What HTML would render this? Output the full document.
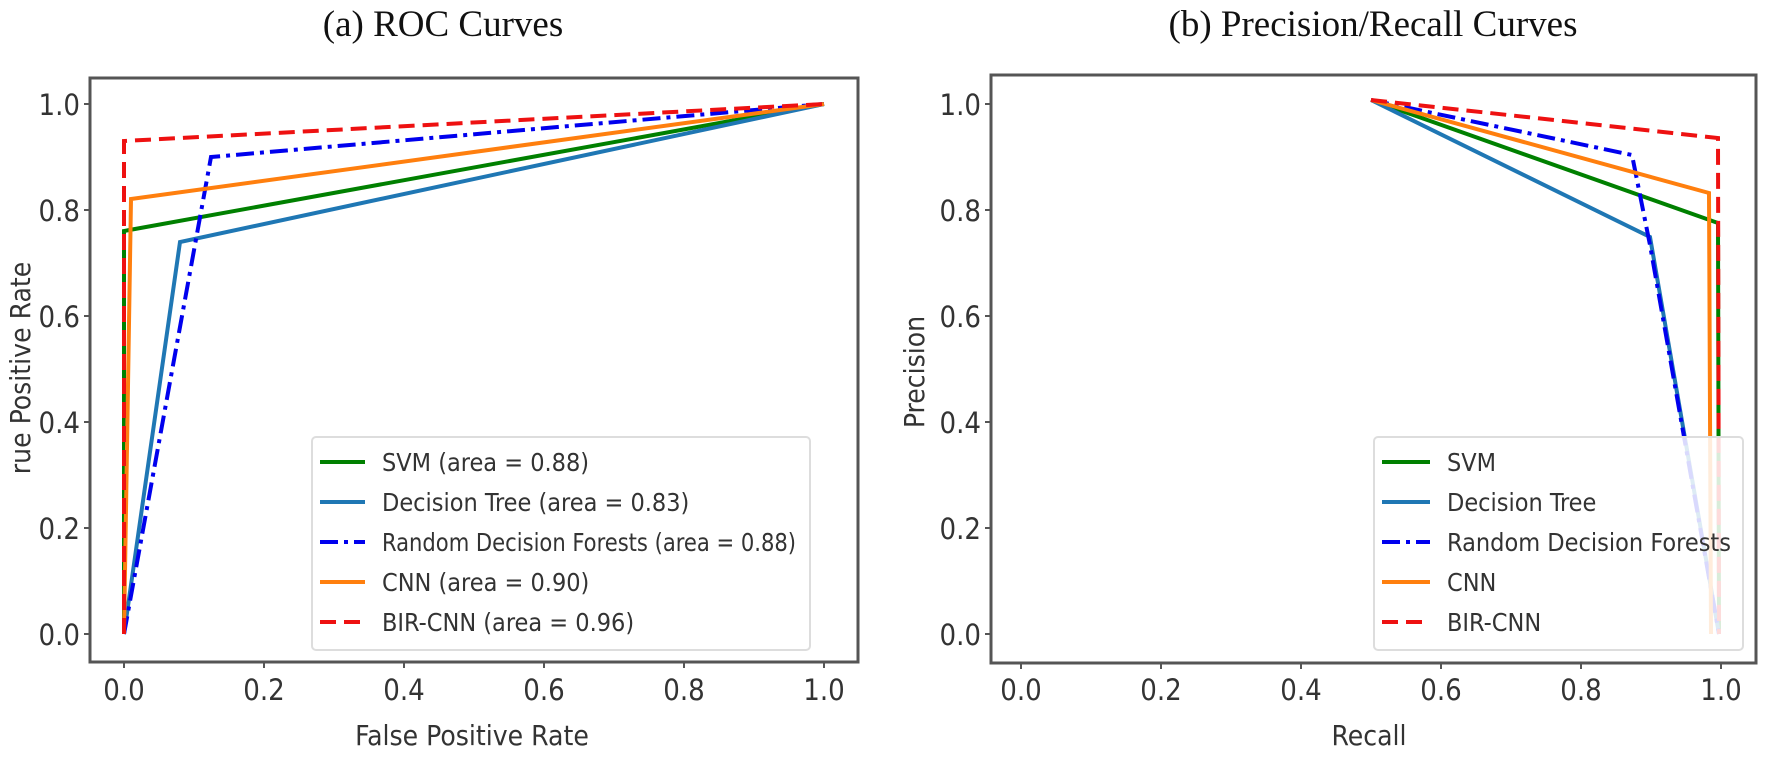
<!DOCTYPE html>
<html><head><style>
html,body{margin:0;padding:0;background:#fff;}
svg{display:block}
.t{font-family:"DejaVu Sans Condensed","DejaVu Sans","Liberation Sans",sans-serif;fill:#333;}
</style></head><body>
<svg width="1770" height="762" viewBox="0 0 1770 762" xmlns="http://www.w3.org/2000/svg">
<rect width="1770" height="762" fill="#fff"/>
<text x="443" y="36" text-anchor="middle" font-family="Liberation Serif,serif" font-size="37" fill="#111">(a) ROC Curves</text>
<text x="1373" y="36" text-anchor="middle" font-family="Liberation Serif,serif" font-size="37" fill="#111">(b) Precision/Recall Curves</text>

<!-- Left plot -->
<g stroke-width="4" fill="none" stroke-linejoin="miter">
<polyline points="124,634 124,231 824,104" stroke="#008000"/>
<polyline points="124,634 180,242 824,104" stroke="#1f77b4"/>
<polyline points="124,634 211,157 824,104" stroke="#0000ee" stroke-dasharray="18,6,4,6"/>
<polyline points="124,634 131,199 824,104" stroke="#ff7f0e"/>
<polyline points="124,634 124,141 824,104" stroke="#ee1111" stroke-dasharray="16,8"/>
</g>
<rect x="90" y="78" width="768" height="584" fill="none" stroke="#555" stroke-width="3"/>
<g class="t" font-size="29" text-anchor="end">
<text x="80" y="645">0.0</text><text x="80" y="539">0.2</text><text x="80" y="433">0.4</text>
<text x="80" y="327">0.6</text><text x="80" y="221">0.8</text><text x="80" y="115">1.0</text>
</g>
<g stroke="#555" stroke-width="2">
<line x1="84" y1="634" x2="90" y2="634"/><line x1="84" y1="528" x2="90" y2="528"/><line x1="84" y1="422" x2="90" y2="422"/>
<line x1="84" y1="316" x2="90" y2="316"/><line x1="84" y1="210" x2="90" y2="210"/><line x1="84" y1="104" x2="90" y2="104"/>
<line x1="124" y1="662" x2="124" y2="668"/><line x1="264" y1="662" x2="264" y2="668"/><line x1="404" y1="662" x2="404" y2="668"/>
<line x1="544" y1="662" x2="544" y2="668"/><line x1="684" y1="662" x2="684" y2="668"/><line x1="824" y1="662" x2="824" y2="668"/>
</g>
<g class="t" font-size="29" text-anchor="middle">
<text x="124" y="700">0.0</text><text x="264" y="700">0.2</text><text x="404" y="700">0.4</text>
<text x="544" y="700">0.6</text><text x="684" y="700">0.8</text><text x="824" y="700">1.0</text>
<text x="472" y="745" font-size="28">False Positive Rate</text>
<text transform="translate(30,368) rotate(-90)" font-size="28">rue Positive Rate</text>
</g>
<rect x="312" y="437" width="498" height="213" rx="4" fill="#fff" fill-opacity="0.85" stroke="#ddd" stroke-width="2"/>
<g stroke-width="4">
<line x1="320" y1="462" x2="365" y2="462" stroke="#008000"/>
<line x1="320" y1="502" x2="365" y2="502" stroke="#1f77b4"/>
<line x1="320" y1="542" x2="365" y2="542" stroke="#0000ee" stroke-dasharray="18,6,4,6"/>
<line x1="320" y1="582" x2="365" y2="582" stroke="#ff7f0e"/>
<line x1="320" y1="622" x2="365" y2="622" stroke="#ee1111" stroke-dasharray="16,8"/>
</g>
<g class="t" font-size="25">
<text x="382" y="471">SVM (area = 0.88)</text>
<text x="382" y="511">Decision Tree (area = 0.83)</text>
<text x="382" y="551" textLength="414" lengthAdjust="spacingAndGlyphs">Random Decision Forests (area = 0.88)</text>
<text x="382" y="591">CNN (area = 0.90)</text>
<text x="382" y="631">BIR-CNN (area = 0.96)</text>
</g>

<!-- Right plot -->
<g stroke-width="4" fill="none">
<polyline points="1371,100 1718,223 1719,634" stroke="#008000"/>
<polyline points="1371,100 1650,237 1719,634" stroke="#1f77b4"/>
<polyline points="1371,100 1632,155 1650,245 1719,634" stroke="#0000ee" stroke-dasharray="18,6,4,6"/>
<polyline points="1371,100 1709,193 1711,634" stroke="#ff7f0e"/>
<polyline points="1371,100 1718,138 1719,634" stroke="#ee1111" stroke-dasharray="16,8"/>
</g>
<rect x="991" y="75" width="765" height="588" fill="none" stroke="#555" stroke-width="3"/>
<g class="t" font-size="29" text-anchor="end">
<text x="981" y="645">0.0</text><text x="981" y="539">0.2</text><text x="981" y="433">0.4</text>
<text x="981" y="327">0.6</text><text x="981" y="221">0.8</text><text x="981" y="115">1.0</text>
</g>
<g stroke="#555" stroke-width="2">
<line x1="985" y1="634" x2="991" y2="634"/><line x1="985" y1="528" x2="991" y2="528"/><line x1="985" y1="422" x2="991" y2="422"/>
<line x1="985" y1="316" x2="991" y2="316"/><line x1="985" y1="210" x2="991" y2="210"/><line x1="985" y1="104" x2="991" y2="104"/>
<line x1="1021" y1="663" x2="1021" y2="669"/><line x1="1161" y1="663" x2="1161" y2="669"/><line x1="1301" y1="663" x2="1301" y2="669"/>
<line x1="1441" y1="663" x2="1441" y2="669"/><line x1="1581" y1="663" x2="1581" y2="669"/><line x1="1721" y1="663" x2="1721" y2="669"/>
</g>
<g class="t" font-size="29" text-anchor="middle">
<text x="1021" y="700">0.0</text><text x="1161" y="700">0.2</text><text x="1301" y="700">0.4</text>
<text x="1441" y="700">0.6</text><text x="1581" y="700">0.8</text><text x="1721" y="700">1.0</text>
<text x="1369" y="745" font-size="28">Recall</text>
<text transform="translate(924,372) rotate(-90)" font-size="28">Precision</text>
</g>
<rect x="1374" y="437" width="369" height="213" rx="4" fill="#fff" fill-opacity="0.85" stroke="#ddd" stroke-width="2"/>
<g stroke-width="4">
<line x1="1382" y1="462" x2="1430" y2="462" stroke="#008000"/>
<line x1="1382" y1="502" x2="1430" y2="502" stroke="#1f77b4"/>
<line x1="1382" y1="542" x2="1430" y2="542" stroke="#0000ee" stroke-dasharray="18,6,4,6"/>
<line x1="1382" y1="582" x2="1430" y2="582" stroke="#ff7f0e"/>
<line x1="1382" y1="622" x2="1430" y2="622" stroke="#ee1111" stroke-dasharray="16,8"/>
</g>
<g class="t" font-size="25">
<text x="1447" y="471">SVM</text>
<text x="1447" y="511">Decision Tree</text>
<text x="1447" y="551" textLength="284" lengthAdjust="spacingAndGlyphs">Random Decision Forests</text>
<text x="1447" y="591">CNN</text>
<text x="1447" y="631">BIR-CNN</text>
</g>
</svg>
</body></html>
